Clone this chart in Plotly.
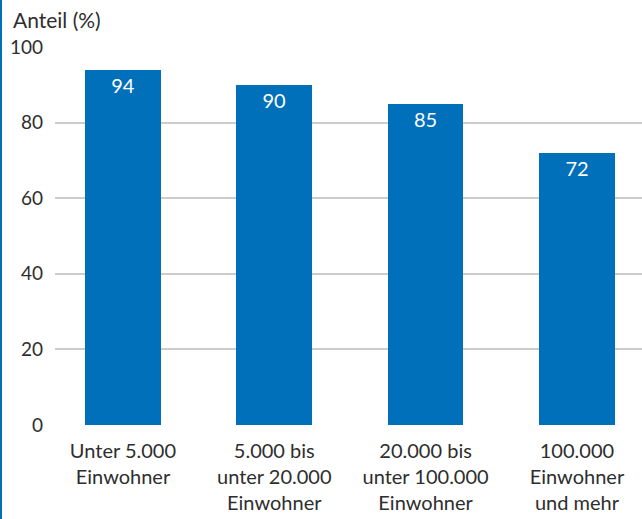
import plotly.graph_objects as go

categories = ["Unter 5.000<br>Einwohner", "5.000 bis<br>unter 20.000<br>Einwohner",
              "20.000 bis<br>unter 100.000<br>Einwohner", "100.000<br>Einwohner<br>und mehr"]
shares = [94, 90, 85, 72]
y_ticks = [0, 20, 40, 60, 80, 100]

BLUE = "#0070BA"
TEXT = "#2e2e2e"
FONT = "Lato"

fig = go.Figure(go.Bar(
    x=list(range(len(categories))),
    y=shares,
    width=0.5,
    marker=dict(color=BLUE, line=dict(width=0)),
    text=[str(v) for v in shares],
    textposition="inside",
    insidetextanchor="end",
    textfont=dict(color="white", size=20, family=FONT),
    cliponaxis=False,
))

fig.update_layout(
    width=642, height=519,
    margin=dict(l=55, r=0, t=47, b=94),
    paper_bgcolor="white", plot_bgcolor="white",
    font=dict(family=FONT, color=TEXT, size=19),
    showlegend=False,
    bargap=0,
    xaxis=dict(
        range=[-0.449, 3.43],
        tickmode="array",
        tickvals=list(range(len(categories))),
        ticktext=categories,
        showgrid=False, zeroline=False, showline=False,
        ticks="", ticklabelstandoff=12,
        tickfont=dict(size=20, color=TEXT),
    ),
    yaxis=dict(
        range=[0, 100],
        tickmode="array",
        tickvals=y_ticks,
        ticktext=[str(t) for t in y_ticks],
        showgrid=True, gridcolor="#cccccc", gridwidth=1.5,
        zeroline=False, showline=False, ticks="",
        ticklabelstandoff=11,
        tickfont=dict(size=19, color=TEXT),
    ),
    annotations=[dict(
        text="Anteil (%)", xref="paper", yref="paper",
        x=-44 / 587, y=1 + 13 / 378, xanchor="left", yanchor="bottom",
        showarrow=False, font=dict(size=21, color=TEXT, family=FONT),
    )],
    shapes=[dict(
        type="line", xref="paper", yref="paper",
        x0=-54 / 587, x1=-54 / 587, y0=-94 / 378, y1=1 + 47 / 378,
        line=dict(color=BLUE, width=2),
    )],
)

fig.write_html("out.html")
